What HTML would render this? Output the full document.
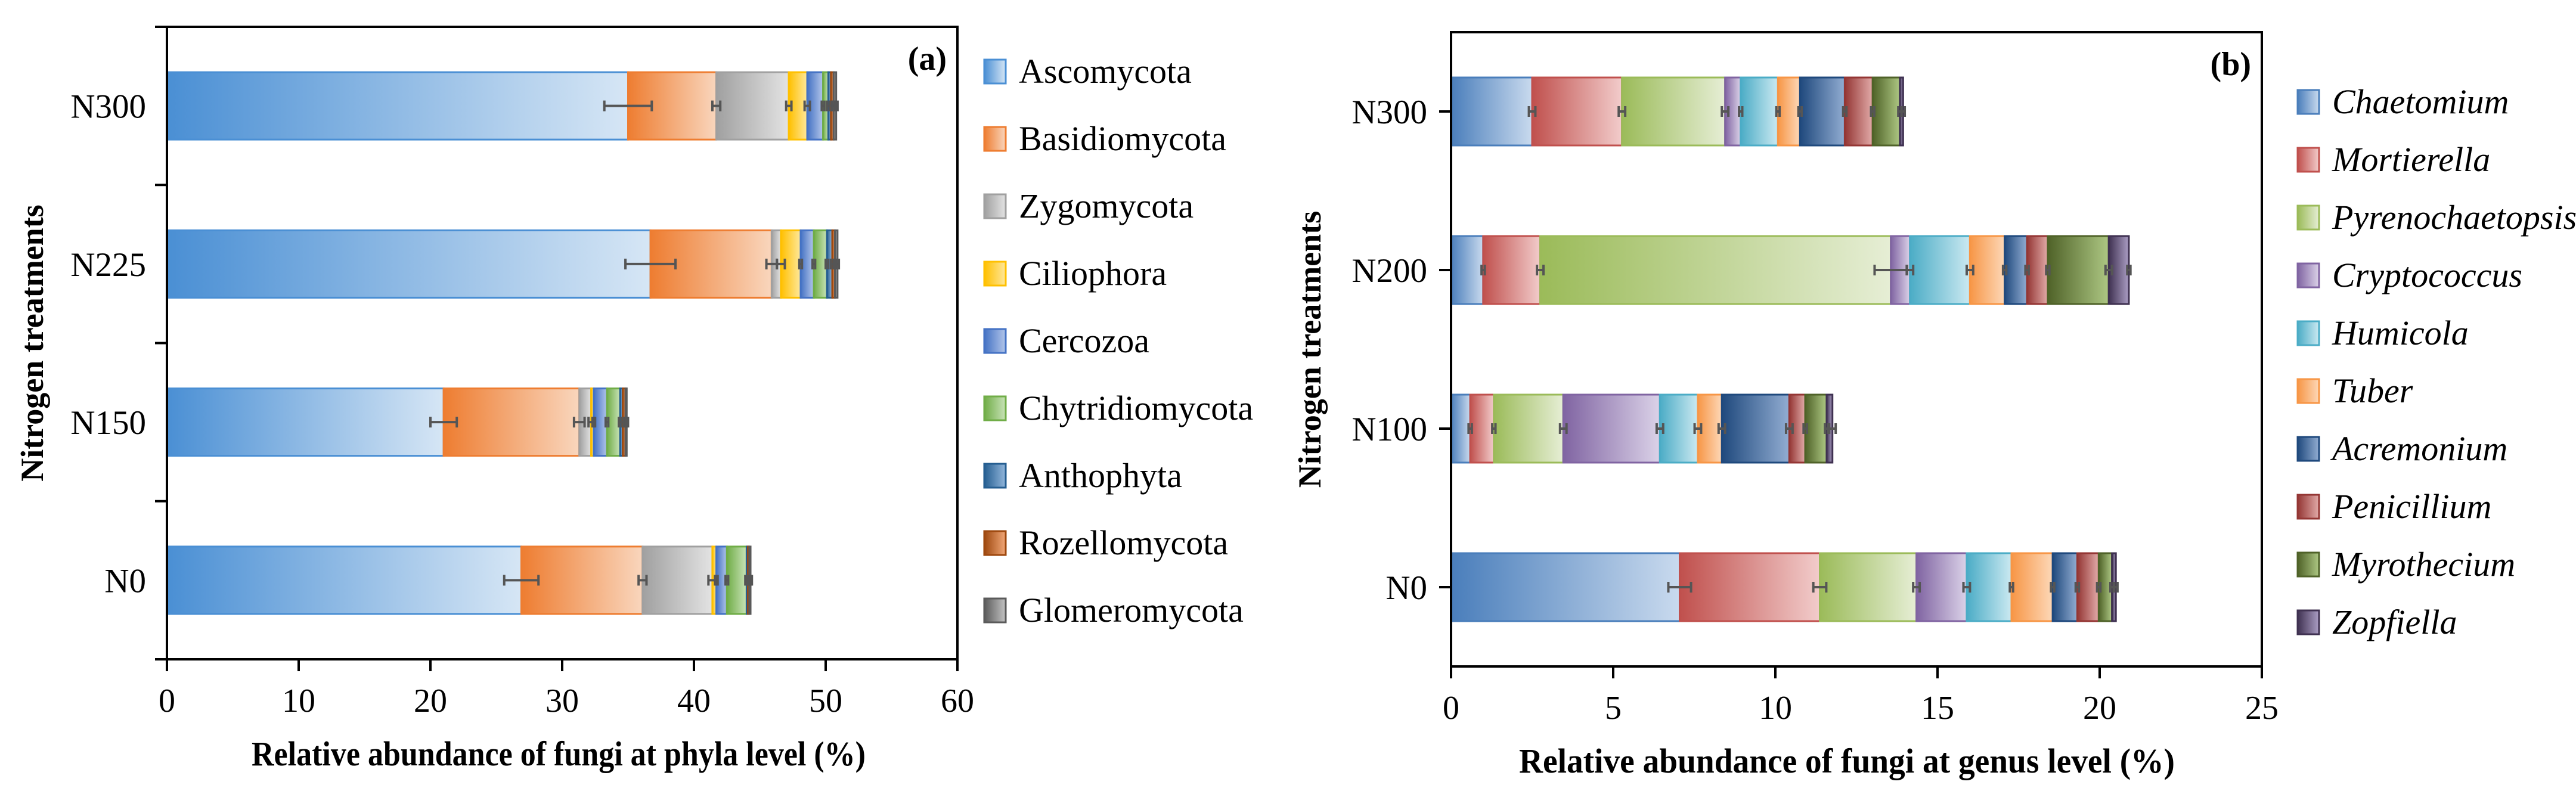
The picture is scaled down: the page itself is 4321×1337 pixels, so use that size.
<!DOCTYPE html>
<html><head><meta charset="utf-8"><style>
html,body{margin:0;padding:0;background:#fff;}
svg{display:block;font-family:"Liberation Serif",serif;}
</style></head><body>
<svg id="c" width="4321" height="1337" viewBox="0 0 4321 1337" xmlns="http://www.w3.org/2000/svg">
<defs id="defs"></defs>
</svg>
<script>
// ---- Panel (a) data: phyla ----
const catsA = ["N300","N225","N150","N0"];
const seriesA = ["Ascomycota","Basidiomycota","Zygomycota","Ciliophora","Cercozoa","Chytridiomycota","Anthophyta","Rozellomycota","Glomeromycota"];
const valsA = [
  [35.0, 6.7, 5.5, 1.4, 1.2, 0.4, 0.2, 0.2, 0.2],
  [36.7, 9.2, 0.7, 1.5, 1.0, 1.0, 0.4, 0.2, 0.2],
  [21.0, 10.3, 0.9, 0.2, 1.0, 1.0, 0.2, 0.2, 0.1],
  [26.9, 9.2, 5.3, 0.3, 0.8, 1.5, 0.1, 0.1, 0.1]
];
const errA = [
  [1.8, 0.3, 0.2, 0.2, 0.1, 0.1, 0.1, 0.1, 0.1],
  [1.9, 0.4, 0.3, 0.1, 0.1, 0.1, 0.1, 0.1, 0.1],
  [1.0, 0.4, 0.2, 0.1, 0.1, 0.1, 0.1, 0.1, 0.1],
  [1.3, 0.3, 0.3, 0.1, 0.1, 0.1, 0.1, 0.1, 0.1]
];
const ticksA = [0,10,20,30,40,50,60];
const colorsA = [["#4a8fd4","#d6e6f5"],["#ee7d31","#f9d6bd"],["#a0a0a0","#e3e3e3"],["#ffc000","#ffe89c"],["#4472c4","#b3c6ea"],["#70ad47","#c9e3b8"],["#255e91","#93b7dc"],["#9e480e","#f2a878"],["#5a5a5a","#c4c4c4"]];

// ---- Panel (b) data: genera ----
const catsB = ["N300","N200","N100","N0"];
const seriesB = ["Chaetomium","Mortierella","Pyrenochaetopsis","Cryptococcus","Humicola","Tuber","Acremonium","Penicillium","Myrothecium","Zopfiella"];
const valsB = [
  [2.5, 2.77, 3.18, 0.48, 1.15, 0.68, 1.38, 0.86, 0.84, 0.10],
  [0.99, 1.76, 10.81, 0.59, 1.85, 1.07, 0.69, 0.64, 1.88, 0.62],
  [0.59, 0.73, 2.14, 2.98, 1.17, 0.74, 2.08, 0.49, 0.66, 0.18],
  [7.05, 4.32, 2.98, 1.55, 1.38, 1.27, 0.76, 0.66, 0.41, 0.12]
];
const errB = [
  [0.1, 0.1, 0.1, 0.05, 0.05, 0.05, 0.05, 0.05, 0.05, 0.05],
  [0.05, 0.1, 0.5, 0.1, 0.1, 0.05, 0.05, 0.05, 0.1, 0.05],
  [0.05, 0.05, 0.1, 0.1, 0.1, 0.1, 0.1, 0.05, 0.05, 0.1],
  [0.35, 0.2, 0.1, 0.1, 0.05, 0.05, 0.05, 0.05, 0.05, 0.05]
];
const ticksB = [0,5,10,15,20,25];
const colorsB = [["#4a7ebb","#c9daee"],["#c0504d","#f2cccb"],["#9bbb59","#e6eed5"],["#8064a2","#dbd2e8"],["#4bacc6","#cbe9f1"],["#f79646","#fdd8b8"],["#1f497d","#92add2"],["#943634","#e2aba9"],["#4f6228","#adc783"],["#3f3151","#ab9ec4"]];

const NS="http://www.w3.org/2000/svg";
const svg=document.getElementById('c');
const defs=document.getElementById('defs');
function mk(tag,attrs,parent){const e=document.createElementNS(NS,tag);for(const k in attrs)e.setAttribute(k,attrs[k]);(parent||svg).appendChild(e);return e;}

function grad(id,c){
  const g=mk('linearGradient',{id:id,x1:0,y1:0,x2:1,y2:0},defs);
  mk('stop',{offset:0,'stop-color':c[0]},g);
  mk('stop',{offset:1,'stop-color':c[1]},g);
}

function panel(o){
  const g=mk('g',{});
  
  
  const xs=v=>o.L+(v-o.min)/(o.max-o.min)*(o.R-o.L);
  const band=(o.B-o.T)/o.cats.length;
  const yc=i=>o.T+band*(i+0.5);
  o.colors.forEach((c,j)=>grad(o.key+'g'+j,c));
  o.vals.forEach((row,i)=>{
    let cum=0;
    const bg=mk('g',{},g);
    
    
    row.forEach((v,j)=>{
      const x0=xs(cum),x1=xs(cum+v);
      const r=mk('rect',{x:x0,y:yc(i)-o.bh/2,width:Math.max(0,x1-x0),height:o.bh,fill:'url(#'+o.key+'g'+j+')',stroke:o.colors[j][0],'stroke-width':3},bg);
      
      
      cum+=v;
    });
    cum=0;
    row.forEach((v,j)=>{
      cum+=v;
      const e=o.err[i][j];
      const xa=xs(cum-e),xb=xs(cum+e),y=yc(i);
      const eg=mk('g',{stroke:'#555','stroke-width':4},bg);
      
      
      mk('line',{x1:xa,y1:y,x2:xb,y2:y},eg);
      mk('line',{x1:xa,y1:y-9,x2:xa,y2:y+9},eg);
      mk('line',{x1:xb,y1:y-9,x2:xb,y2:y+9},eg);
    });
  });
  const f=mk('rect',{x:o.L,y:o.T,width:o.R-o.L,height:o.B-o.T,fill:'none',stroke:'#000','stroke-width':4},g);
  
  
  for(let i=0;i<=o.cats.length;i++){
    const y=o.T+band*i;
    if(o.bnd) mk('line',{x1:o.L-20,y1:y,x2:o.L,y2:y,stroke:'#000','stroke-width':4},g);
  }
  o.cats.forEach((c,i)=>{
    if(!o.bnd) mk('line',{x1:o.L-20,y1:yc(i),x2:o.L,y2:yc(i),stroke:'#000','stroke-width':4},g);
    const t=mk('text',{x:o.L-(o.bnd?35:40),y:yc(i)+20,'text-anchor':'end','font-size':57},g);
    t.textContent=c;
    
    
  });
  o.ticks.forEach(v=>{
    mk('line',{x1:xs(v),y1:o.B,x2:xs(v),y2:o.B+20,stroke:'#000','stroke-width':4},g);
    const t=mk('text',{x:xs(v),y:o.B+88,'text-anchor':'middle','font-size':56},g);
    t.textContent=v;
    
    
  });
  const xt=mk('text',{x:(o.L+o.R)/2+o.xtOff,y:o.B+178,'text-anchor':'middle','font-size':58,'font-weight':'bold',textLength:o.xtLen,lengthAdjust:'spacingAndGlyphs'},g);
  xt.textContent=o.xtitle;
  
  
  const yt=mk('text',{x:0,y:0,'text-anchor':'middle','font-size':54,'font-weight':'bold',transform:'translate('+o.ytx+','+((o.T+o.B)/2)+') rotate(-90)'},g);
  yt.textContent='Nitrogen treatments';
  
  
  const pl=mk('text',{x:o.R-18,y:o.T+72,'text-anchor':'end','font-size':56,'font-weight':'bold'},g);
  pl.textContent=o.label;
  
  
  o.series.forEach((s,j)=>{
    const lg=mk('g',{},g);
    
    
    const y=o.legY+j*o.legStep;
    mk('rect',{x:o.legX,y:y-20,width:36,height:40,fill:'url(#'+o.key+'g'+j+')',stroke:o.colors[j][0],'stroke-width':3},lg);
    const t=mk('text',{x:o.legX+58,y:y+19,'font-size':58,'font-style':o.italic?'italic':'normal'},lg);
    t.textContent=s;
  });
}

panel({key:'a',cats:catsA,series:seriesA,vals:valsA,err:errA,ticks:ticksA,colors:colorsA,min:0,max:60,
  L:280,R:1606,T:45,B:1106,bh:113,bnd:true,xtitle:'Relative abundance of fungi at phyla level (%)',xtLen:1030,xtOff:-6,
  ytx:72,label:'(a)',legX:1651,legY:120,legStep:113,italic:false});
panel({key:'b',cats:catsB,series:seriesB,vals:valsB,err:errB,ticks:ticksB,colors:colorsB,min:0,max:25,
  L:2434,R:3794,T:54,B:1118,bh:114,bnd:false,xtitle:'Relative abundance of fungi at genus level (%)',xtLen:1100,xtOff:-16,
  ytx:2215,label:'(b)',legX:3854,legY:171,legStep:97,italic:true});
</script>
</body></html>
